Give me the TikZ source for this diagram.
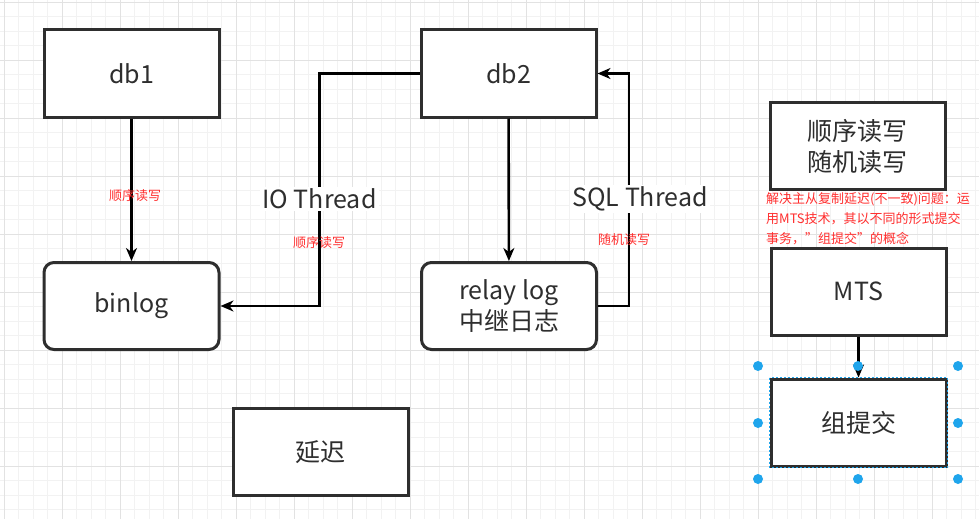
\documentclass[tikz,border=0pt]{standalone}
\usepackage{fontspec}
\setmainfont{Noto Sans CJK SC}
\usetikzlibrary{arrows.meta}
\definecolor{boxline}{HTML}{2E2E2E}
\definecolor{notered}{HTML}{FF2E2E}
\definecolor{handle}{HTML}{1FA5EC}
\definecolor{gridminor}{HTML}{F2F2F2}
\definecolor{gridmajor}{HTML}{E2E2E2}
\begin{document}
\begin{tikzpicture}[x=1pt,y=-1pt,
		box/.style={draw=boxline,line width=3pt,fill=white,minimum width=175pt,minimum height=87pt,inner sep=0pt,align=center,text=boxline,font=\fontsize{25}{31}\selectfont},
		rbox/.style={box,rounded corners=10pt},
		arr/.style={-{Stealth[length=13pt,width=11pt,inset=4pt]},line width=2.6pt},
		note/.style={text=notered,font=\fontsize{13}{20}\selectfont,inner sep=0pt},
		lbl/.style={fill=white,text=boxline,font=\fontsize{25}{30}\selectfont,inner sep=2pt}]
	\useasboundingbox (0,0) rectangle (979,519);
	\fill[white] (0,0) rectangle (979,519);
	% grid
	\foreach \k in {0,...,67} {
		\draw[gridminor,line width=0.6pt] (4+14.5*\k,0) -- (4+14.5*\k,519);
	}
	\foreach \k in {0,...,35} {
		\draw[gridminor,line width=0.6pt] (0,2+14.5*\k) -- (979,2+14.5*\k);
	}
	\foreach \k in {0,...,16} {
		\draw[gridmajor,line width=0.8pt] (4+58*\k,0) -- (4+58*\k,519);
	}
	\foreach \k in {0,...,8} {
		\draw[gridmajor,line width=0.8pt] (0,2+58*\k) -- (979,2+58*\k);
	}
	% boxes
	\node[box] (db1) at (131.5,73.5) {db1};
	\node[box] (db2) at (508.5,73.5) {db2};
	\node[rbox] (binlog) at (131.5,306) {binlog};
	\node[rbox] (relay) at (509,306) {relay log\\中继日志};
	\node[box] (delay) at (320.5,452) {延迟};
	\node[box] (rw) at (857.5,146) {顺序读写\\随机读写};
	\node[box] (mts) at (858.5,291.5) {MTS};
	\node[box] (commit) at (858.5,422.5) {组提交};
	\draw[handle,line width=1.2pt,dash pattern=on 2pt off 2pt] (commit.north west) rectangle (commit.south east);
	% connectors
	\draw[arr] (db1) -- (binlog);
	\draw[arr] (db2) -- (relay);
	\draw[arr] (db2.west) -- ++(-100,0) coordinate (io) |- (binlog.east);
	\draw[arr] (relay.east) -- ++(31,0) coordinate (sql) |- (db2.east);
	\draw[arr] (mts) -- (commit);
	\node[lbl] (iolbl) at (io |- 0,199) {IO Thread};
	\node[lbl] (sqllbl) at (640,199) {SQL Thread};
	% notes
	\node[note] (n1) at (135,196) {顺序读写};
	\node[note] (n2) at (319,243) {顺序读写};
	\node[note] (n3) at (624,240) {随机读写};
	\node[note,anchor=north west,align=left] (n4) at (766,192) {解决主从复制延迟(不一致)问题：运\\用MTS技术，其以不同的形式提交\\事务，\char"0022组提交\char"0022的概念};
	% selection handles
	\foreach \p in {(758,366),(858,366),(958,366),(758,423),(958,423),(758,479),(858,479),(958,479)} {
		\fill[handle] \p circle (5pt);
	}
\end{tikzpicture}
\end{document}
